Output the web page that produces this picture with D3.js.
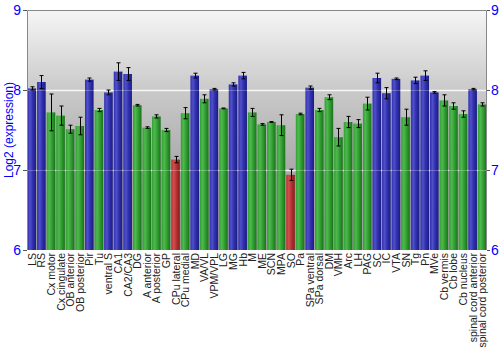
<!DOCTYPE html>
<html><head><meta charset="utf-8">
<script src="https://cdn.jsdelivr.net/npm/d3@7"></script>
<style>body{margin:0;background:#fff}svg{display:block}</style>
</head><body>
<svg id="c" width="500" height="350"></svg>
<script>
const categories = ["LS","RS","Cx motor","Cx cingulate","OB anterior","OB posterior","Pir","Tu","ventral S","CA1","CA2/CA3","DG","A anterior","A posterior","GP","CPu lateral","CPu medial","MD","VA/VL","VPM/VPL","LG","MG","Hb","M","ME","SCN","MPA","SO","Pa","SPa ventral","SPa dorsal","DM","VMH","Arc","LH","PAG","SC","IC","VTA","SN","Tg","Pn","MVe","Cb vermis","Cb lobe","Cb nucleus","spinal cord anterior","spinal cord posterior"];
const values = [8.02,8.10,7.72,7.68,7.51,7.55,8.13,7.75,7.97,8.23,8.20,7.81,7.53,7.67,7.50,7.13,7.71,8.18,7.89,8.01,7.77,8.07,8.18,7.72,7.57,7.60,7.56,6.94,7.70,8.03,7.75,7.91,7.41,7.60,7.58,7.83,8.15,7.96,8.14,7.66,8.12,8.18,7.97,7.87,7.80,7.70,8.01,7.82];
const errors = [0.02,0.08,0.23,0.12,0.05,0.11,0.02,0.02,0.03,0.11,0.08,0.01,0.01,0.02,0.02,0.04,0.07,0.03,0.05,0.01,0.005,0.02,0.04,0.05,0.01,0.005,0.13,0.07,0.01,0.02,0.02,0.03,0.11,0.07,0.05,0.08,0.06,0.07,0.01,0.1,0.04,0.06,0.01,0.07,0.04,0.04,0.01,0.02];
const groups = ["b","b","g","g","g","g","b","g","b","b","b","g","g","g","g","r","g","b","g","b","g","b","b","g","g","g","g","r","g","b","g","g","g","g","g","g","b","b","b","g","b","b","b","g","g","g","b","g"];
const yTicks = [6,7,8,9];

const svg = d3.select("#c");
const L=27,R=487,T=10,B=250;
const x = d3.scaleBand().domain(categories).range([L,R]).paddingInner(0.1).paddingOuter(0.05);
const y = d3.scaleLinear().domain([6,9]).range([B,T]);

const defs = svg.append("defs");
const bg = defs.append("linearGradient").attr("id","bg").attr("x1",0).attr("y1",0).attr("x2",0).attr("y2",1);
bg.append("stop").attr("offset","0%").attr("stop-color","#f6f6f6");
bg.append("stop").attr("offset","33%").attr("stop-color","#cacaca");
bg.append("stop").attr("offset","66%").attr("stop-color","#aaaaaa");
bg.append("stop").attr("offset","100%").attr("stop-color","#a0a0a0");
const cols = {b:["#5050c8","#3030b0","#1c1c80"], g:["#50b850","#30a030","#1c701c"], r:["#d05050","#b83030","#802020"]};
Object.entries(cols).forEach(([k,c])=>{
  const g = defs.append("linearGradient").attr("id","bar"+k).attr("x1",0).attr("y1",0).attr("x2",1).attr("y2",0);
  g.append("stop").attr("offset","0%").attr("stop-color",c[1]);
  g.append("stop").attr("offset","30%").attr("stop-color",c[0]);
  g.append("stop").attr("offset","60%").attr("stop-color",c[1]);
  g.append("stop").attr("offset","100%").attr("stop-color",c[2]);
});

svg.append("rect").attr("x",L).attr("y",T).attr("width",R-L).attr("height",B-T).attr("fill","url(#bg)");

// grid lines (behind bars, faint)
svg.append("g").selectAll("line").data([7,8]).join("line")
  .attr("x1",L).attr("x2",R).attr("y1",d=>y(d)+0.5).attr("y2",d=>y(d)+0.5)
  .attr("stroke","#ffffff").attr("stroke-opacity",0.8).attr("stroke-width",1.5);

svg.append("g").selectAll("rect").data(categories).join("rect")
  .attr("x",d=>x(d)).attr("width",x.bandwidth())
  .attr("y",(d,i)=>y(values[i])).attr("height",(d,i)=>B-y(values[i]))
  .attr("fill",(d,i)=>"url(#bar"+groups[i]+")");

// faint grid over bars
svg.append("g").selectAll("line").data([7,8]).join("line")
  .attr("x1",L).attr("x2",R).attr("y1",d=>y(d)+0.5).attr("y2",d=>y(d)+0.5)
  .attr("stroke","#ffffff").attr("stroke-opacity",0.25).attr("stroke-width",1);

// error bars
const eb = svg.append("g").attr("stroke","#000").attr("stroke-width",1);
categories.forEach((c,i)=>{
  const cx = Math.round(x(c)+x.bandwidth()/2)+0.5;
  const y1 = y(values[i]+errors[i]), y2 = y(values[i]-errors[i]);
  eb.append("line").attr("x1",cx).attr("x2",cx).attr("y1",y1).attr("y2",y2);
  eb.append("line").attr("x1",cx-2).attr("x2",cx+2).attr("y1",y1).attr("y2",y1);
  eb.append("line").attr("x1",cx-2).attr("x2",cx+2).attr("y1",y2).attr("y2",y2);
});

// frame
svg.append("path").attr("d",`M${L+0.5},${B}V${T+0.5}H${R-0.5}V${B}`).attr("fill","none").attr("stroke","#888").attr("stroke-width",1);

const fontT = "Liberation Sans, Arial, sans-serif";
const ax = svg.append("g").attr("font-family",fontT);
ax.selectAll("text.l").data(yTicks).join("text").attr("class","l")
  .attr("x",L-6).attr("y",d=>y(d)).attr("dy","0.36em").attr("text-anchor","end")
  .attr("fill","#0000ff").attr("font-size",14).text(d=>d);
ax.selectAll("text.r").data(yTicks).join("text").attr("class","r")
  .attr("x",R+4).attr("y",d=>y(d)).attr("dy","0.36em").attr("text-anchor","start")
  .attr("fill","#0000ff").attr("font-size",14).text(d=>d);
ax.selectAll("line.tl").data(yTicks).join("line").attr("class","tl")
  .attr("x1",L-4).attr("x2",L).attr("y1",d=>y(d)+0.5).attr("y2",d=>y(d)+0.5).attr("stroke","#555");
ax.selectAll("line.tr").data(yTicks).join("line").attr("class","tr")
  .attr("x1",R).attr("x2",R+3).attr("y1",d=>y(d)+0.5).attr("y2",d=>y(d)+0.5).attr("stroke","#555");

svg.append("text").attr("transform",`translate(13,${(T+B)/2}) rotate(-90)`)
  .attr("text-anchor","middle").attr("font-family",fontT).attr("font-size",12).attr("fill","#0000ff")
  .text("Log2 (expression)");

svg.append("g").selectAll("text").data(categories).join("text")
  .attr("transform",d=>`translate(${x(d)+x.bandwidth()/2+4},${B+3}) rotate(-90)`)
  .attr("text-anchor","end").attr("font-family",fontT).attr("font-size",10.5).attr("fill","#222")
  .text(d=>d);
</script>
</body></html>
